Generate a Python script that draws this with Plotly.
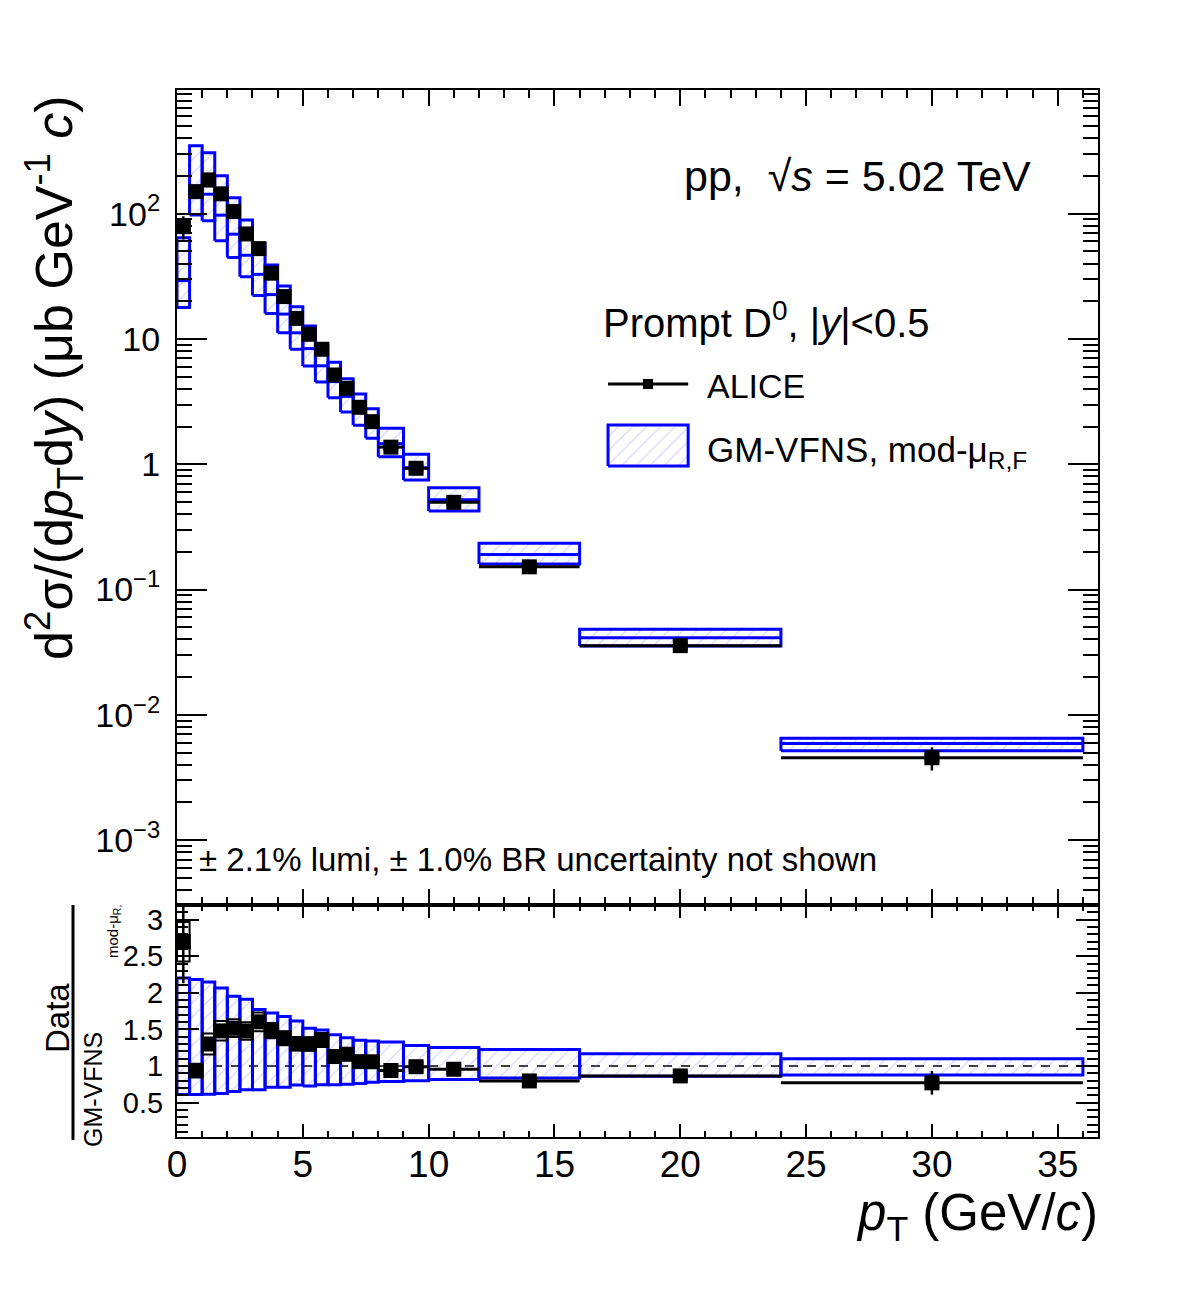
import plotly.graph_objects as go

# ---------------- data ----------------
pt_lo = [0, 0.5, 1, 1.5, 2, 2.5, 3, 3.5, 4, 4.5, 5, 5.5, 6, 6.5, 7, 7.5, 8, 9, 10, 12, 16, 24]
pt_hi = [0.5, 1, 1.5, 2, 2.5, 3, 3.5, 4, 4.5, 5, 5.5, 6, 6.5, 7, 7.5, 8, 9, 10, 12, 16, 24, 36]

alice = [78.8, 150, 186, 144, 104, 68.9, 52.6, 33.5, 21.8, 14.6, 10.9, 8.28, 5.16, 4.04,
         2.85, 2.19, 1.37, 0.929, 0.497, 0.152, 0.0357, 0.00455]
alice_stat_rel = [0.21, 0.05, 0.04, 0.03, 0.03, 0.03, 0.03, 0.03, 0.03, 0.03, 0.03, 0.03,
                  0.03, 0.03, 0.03, 0.03, 0.03, 0.03, 0.04, 0.05, 0.06, 0.21]
alice_syst_rel = [0.10, 0.10, 0.11, 0.09, 0.08, 0.08, 0.08, 0.07, 0.07, 0.07, 0.07, 0.07,
                  0.07, 0.07, 0.07, 0.07, 0.07, 0.07, 0.07, 0.07, 0.07, 0.07]

gmvfns_central = [29.2, 160, 143, 97.3, 68.6, 46.6, 32.8, 22.6, 15.8, 11.2, 8.38, 6.11, 4.57,
                  3.48, 2.69, 2.07, 1.46, 0.938, 0.520, 0.191, 0.0413, 0.00591]
gmvfns_max = [64.3, 349, 307, 201, 134, 89.1, 58.1, 39.0, 26.5, 18.1, 12.7, 9.12, 6.52, 4.82,
              3.64, 2.78, 1.94, 1.20, 0.651, 0.234, 0.0482, 0.0065]
gmvfns_min = [17.8, 97.7, 87.9, 60.9, 44.6, 31.4, 22.2, 16.0, 11.2, 8.28, 6.09, 4.54, 3.40,
              2.61, 2.05, 1.61, 1.15, 0.749, 0.424, 0.160, 0.0355, 0.00518]

x_ticks = [0, 5, 10, 15, 20, 25, 30, 35]
y_main_ticks = [1e-3, 1e-2, 1e-1, 1, 10, 100]
y_main_ticktext = ["10<sup>\u22123</sup>", "10<sup>\u22122</sup>", "10<sup>\u22121</sup>", "1", "10", "10<sup>2</sup>"]
y_ratio_ticks = [0.5, 1, 1.5, 2, 2.5, 3]
y_ratio_ticktext = ["0.5", "1", "1.5", "2", "2.5", "3"]

# ---------------- derived ----------------
pt_c = [(a + b) / 2 for a, b in zip(pt_lo, pt_hi)]
pt_hw = [(b - a) / 2 for a, b in zip(pt_lo, pt_hi)]
ratio = [d / c for d, c in zip(alice, gmvfns_central)]
ratio_hi = [m / c for m, c in zip(gmvfns_max, gmvfns_central)]
ratio_lo = [m / c for m, c in zip(gmvfns_min, gmvfns_central)]

FONT = "Liberation Sans, Arial, Helvetica, sans-serif"
BLUE = "#0000ff"
HATCH = dict(shape="/", fgcolor="rgba(100,100,255,0.55)", bgcolor="rgba(0,0,0,0)", size=10, solidity=0.12)


def boxes(lo, hi, ylo, yhi):
    xs, ys = [], []
    for a, b, c, d in zip(lo, hi, ylo, yhi):
        xs += [a, b, b, a, a, None]
        ys += [c, c, d, d, c, None]
    return xs, ys


def segs(lo, hi, yv):
    xs, ys = [], []
    for a, b, c in zip(lo, hi, yv):
        xs += [a, b, None]
        ys += [c, c, None]
    return xs, ys


fig = go.Figure()

# ---- main panel: theory boxes
bx, by = boxes(pt_lo, pt_hi, gmvfns_min, gmvfns_max)
fig.add_trace(go.Scatter(x=bx, y=by, mode="lines", fill="toself", fillcolor="rgba(0,0,0,0)",
                         fillpattern=HATCH, line=dict(color=BLUE, width=3),
                         xaxis="x", yaxis="y", showlegend=False, hoverinfo="skip"))
cx, cy = segs(pt_lo, pt_hi, gmvfns_central)
fig.add_trace(go.Scatter(x=cx, y=cy, mode="lines", line=dict(color=BLUE, width=3),
                         xaxis="x", yaxis="y", showlegend=False, hoverinfo="skip"))

# ---- main panel: data syst boxes
sx, sy = boxes([c - 0.25 for c in pt_c], [c + 0.25 for c in pt_c],
               [d * (1 - s) for d, s in zip(alice, alice_syst_rel)],
               [d * (1 + s) for d, s in zip(alice, alice_syst_rel)])
fig.add_trace(go.Scatter(x=sx, y=sy, mode="lines", line=dict(color="black", width=2),
                         xaxis="x", yaxis="y", showlegend=False, hoverinfo="skip"))
# ---- main panel: data
fig.add_trace(go.Scatter(
    x=pt_c, y=alice, mode="markers",
    marker=dict(symbol="square", size=15, color="black"),
    error_x=dict(type="data", array=pt_hw, color="black", thickness=3, width=0),
    error_y=dict(type="data", array=[d * s for d, s in zip(alice, alice_stat_rel)],
                 color="black", thickness=2.5, width=0),
    xaxis="x", yaxis="y", showlegend=False))

# ---- ratio panel
fig.add_trace(go.Scatter(x=[0, 36], y=[1, 1], mode="lines",
                         line=dict(color="black", width=1.5, dash="dash"),
                         xaxis="x2", yaxis="y2", showlegend=False, hoverinfo="skip"))
rbx, rby = boxes(pt_lo, pt_hi, ratio_lo, ratio_hi)
fig.add_trace(go.Scatter(x=rbx, y=rby, mode="lines", fill="toself", fillcolor="rgba(0,0,0,0)",
                         fillpattern=HATCH, line=dict(color=BLUE, width=3),
                         xaxis="x2", yaxis="y2", showlegend=False, hoverinfo="skip"))
rsx, rsy = boxes([c - 0.25 for c in pt_c], [c + 0.25 for c in pt_c],
                 [r * (1 - s) for r, s in zip(ratio, alice_syst_rel)],
                 [r * (1 + s) for r, s in zip(ratio, alice_syst_rel)])
fig.add_trace(go.Scatter(x=rsx, y=rsy, mode="lines", line=dict(color="black", width=2),
                         xaxis="x2", yaxis="y2", showlegend=False, hoverinfo="skip"))
fig.add_trace(go.Scatter(
    x=pt_c, y=ratio, mode="markers",
    marker=dict(symbol="square", size=15, color="black"),
    error_x=dict(type="data", array=pt_hw, color="black", thickness=3, width=0),
    error_y=dict(type="data", array=[r * s for r, s in zip(ratio, alice_stat_rel)],
                 color="black", thickness=2.5, width=0),
    xaxis="x2", yaxis="y2", showlegend=False))

# ---- legend symbols on an overlay frame (0..1 over main panel)
fig.add_trace(go.Scatter(x=[0.468, 0.555], y=[0.6393, 0.6393], mode="lines",
                         line=dict(color="black", width=3), xaxis="x3", yaxis="y3",
                         showlegend=False, hoverinfo="skip"))
fig.add_trace(go.Scatter(x=[0.5114], y=[0.6393], mode="markers",
                         marker=dict(symbol="square", size=10, color="black"),
                         xaxis="x3", yaxis="y3", showlegend=False, hoverinfo="skip"))
fig.add_trace(go.Scatter(x=[0.468, 0.555, 0.555, 0.468, 0.468],
                         y=[0.5387, 0.5387, 0.589, 0.589, 0.5387], mode="lines",
                         fill="toself", fillcolor="rgba(0,0,0,0)", fillpattern=HATCH,
                         line=dict(color=BLUE, width=3), xaxis="x3", yaxis="y3",
                         showlegend=False, hoverinfo="skip"))

R_TOP = 0.2216
axis_common = dict(showgrid=False, zeroline=False, showline=True, linecolor="black", linewidth=2,
                   mirror="ticks", ticks="inside", tickcolor="black", tickwidth=2)

fig.update_layout(
    width=1182, height=1294,
    margin=dict(l=177, r=84, t=90, b=157),
    paper_bgcolor="white", plot_bgcolor="rgba(0,0,0,0)",
    font=dict(family=FONT, color="black"),
    xaxis=dict(domain=[0, 1], anchor="y", range=[0, 36.6], tickmode="array", tickvals=x_ticks,
               showticklabels=False, ticklen=16,
               minor=dict(ticks="inside", tickmode="array", tickvals=list(range(0, 37)),
                          ticklen=8, tickcolor="black", tickwidth=2),
               **axis_common),
    yaxis=dict(domain=[R_TOP, 1], anchor="x", type="log", range=[-3.517, 2.987],
               tickmode="array", tickvals=y_main_ticks, ticktext=y_main_ticktext,
               tickfont=dict(size=34), ticklen=30, ticklabelstandoff=8,
               minor=dict(ticks="inside", tickmode="array",
                          tickvals=[m * 10 ** e for e in range(-4, 3) for m in range(2, 10)],
                          ticklen=15, tickcolor="black", tickwidth=2),
               **axis_common),
    xaxis2=dict(domain=[0, 1], anchor="y2", range=[0, 36.6], tickmode="array", tickvals=x_ticks,
                ticktext=[str(v) for v in x_ticks], tickfont=dict(size=37), ticklen=13,
                ticklabelstandoff=-6,
                minor=dict(ticks="inside", tickmode="array", tickvals=list(range(0, 37)),
                           ticklen=6, tickcolor="black", tickwidth=2),
                **axis_common),
    yaxis2=dict(domain=[0, R_TOP], anchor="x2", range=[0.03, 3.2], tickmode="array",
                tickvals=y_ratio_ticks, ticktext=y_ratio_ticktext, tickfont=dict(size=29),
                ticklen=22, ticklabelstandoff=6,
                minor=dict(ticks="inside", tickmode="array",
                           tickvals=[round(0.1 * k, 1) for k in range(1, 33)],
                           ticklen=11, tickcolor="black", tickwidth=2),
                **axis_common),
    xaxis3=dict(overlaying="x", anchor="y3", range=[0, 1], visible=False, fixedrange=True),
    yaxis3=dict(overlaying="y", anchor="x3", range=[0, 1], visible=False, fixedrange=True),
)


def px(xp):
    return (xp - 177) / 921


def py(yp):
    return (1137 - yp) / 1047


ann = [
    dict(text="pp,  \u221a<i>s</i> = 5.02 TeV", x=px(682), y=py(176), xanchor="left", yanchor="middle",
         font=dict(size=43)),
    dict(text="Prompt D<sup>0</sup>, |<i>y</i>|&lt;0.5", x=px(601), y=py(320), xanchor="left",
         yanchor="middle", font=dict(size=40)),
    dict(text="ALICE", x=px(705), y=py(386), xanchor="left", yanchor="middle", font=dict(size=34)),
    dict(text="GM-VFNS, mod-\u03bc<sub>R,F</sub>", x=px(705), y=py(452), xanchor="left",
         yanchor="middle", font=dict(size=35)),
    dict(text="\u00b1 2.1% lumi, \u00b1 1.0% BR uncertainty not shown", x=px(197), y=py(860),
         xanchor="left", yanchor="middle", font=dict(size=33)),
    dict(text="<i>p</i><sub>T</sub> (GeV/<i>c</i>)", x=px(1100), y=py(1216), xanchor="right",
         yanchor="middle", font=dict(size=51)),
    dict(text="d<sup>2</sup>\u03c3/(d<i>p</i><sub>T</sub>d<i>y</i>) (\u03bcb GeV<sup>-1</sup> <i>c</i>)",
         x=px(54), y=py(378), xanchor="center", yanchor="middle", textangle=-90,
         font=dict(size=52)),
    dict(text="Data", x=px(57), y=py(1018), xanchor="center", yanchor="middle", textangle=-90,
         font=dict(size=33)),
    dict(text="GM-VFNS", x=px(93), y=py(1090), xanchor="center", yanchor="middle", textangle=-90,
         font=dict(size=25)),
    dict(text="mod-\u03bc<sub>R,</sub>", x=px(113), y=py(932), xanchor="center", yanchor="middle",
         textangle=-90, font=dict(size=15)),
]
for a in ann:
    a.update(xref="paper", yref="paper", showarrow=False)
fig.update_layout(annotations=ann)

fig.add_shape(type="line", xref="paper", yref="paper", x0=px(73), x1=px(73), y0=py(905), y1=py(1140),
              line=dict(color="black", width=3))

fig.write_html("out.html")
